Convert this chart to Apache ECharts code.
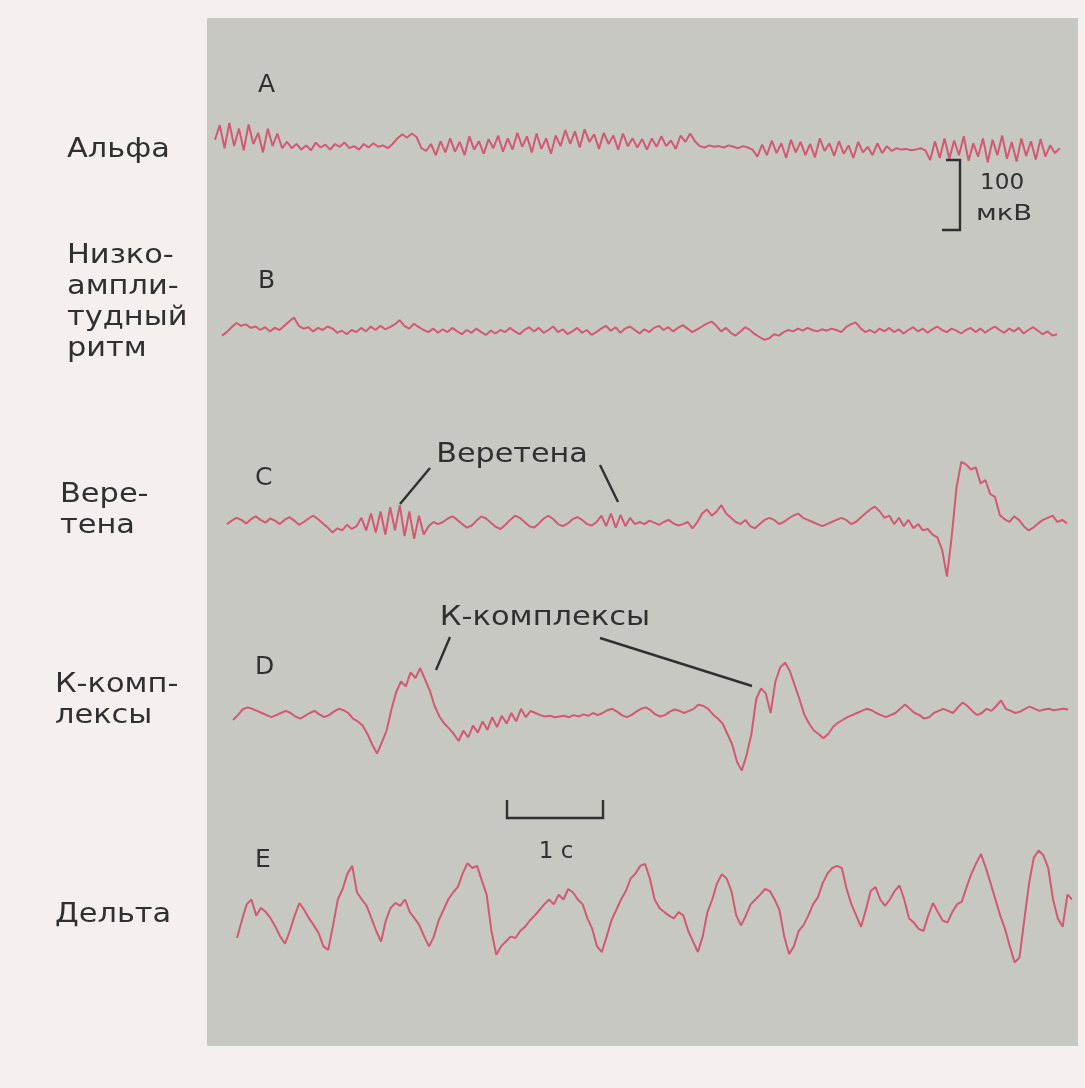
<!DOCTYPE html>
<html>
<head>
<meta charset="utf-8">
<title>ЭЭГ</title>
<script src="https://cdn.jsdelivr.net/npm/echarts@6/dist/echarts.min.js"></script>
<style>
html, body { margin: 0; padding: 0; background: #f5f0ee; }
#main { width: 1085px; height: 1088px; }
</style>
</head>
<body>
<div id="main"></div>
<script>
// time step between samples, seconds
const STEP = 0.05;

// start time of each trace, seconds
const START_A = 0.083;
const START_B = 0.156;
const START_C = 0.208;
const START_D = 0.271;
const START_E = 0.313;

// amplitudes, µV
const alpha = [
    6, 27, -6, 30, -3, 22, -9, 28, 0, 16, -12, 22, -3, 15, -6,
    3, -6, 0, -8, -2, -9, 2, -5, -1, -8, 0, -4, 2, -6, -3, -8, 0, -5, 1, -4, -2, -6, 0,
    8, 14, 9, 15, 10,
    -6, -10,
    0, -16, 4, -12, 8, -11, 3, -16, 11, -8, 4, -14, 7, -6, 12, -11, 8, -8, 16, -4, 11, -12, 15, -7, 8, -14, 12,
    -3, 20, 0, 18, -5, 21, 3, 14, -7, 16, 0, 12, -8, 15, -3, 8, -5,
    7, -8, 8, -4, 11, -3, 5, -7, 12, 3, 15, 4,
    -3, -5, -2, -4, -3, -5, -2, -4, -6, -3, -5, -8,
    -18, -1, -16, 5, -13, 1, -20, 6, -12, 3, -16, 0, -19, 8, -10, 1, -17, 4, -14, -2, -20, 3, -12, -4, -16, 1, -13, -3, -10,
    -6, -8, -7, -9, -8, -6, -9,
    -23, 4, -20, 8, -21, 5, -16, 11, -24, 1, -18, 8, -26, 6, -16, 12, -21, 3, -25, 8, -17, 4, -22, 7, -18, -2, -13, -6
];

const lowAmp = [
    -8, -3, 4, 10, 6, 8, 3, 5,
    0, 4, -2, 3, 0, 6, 12, 18,
    6, 2, 4, -2, 3, 0, 5, 2,
    -4, -1, -6, 0, -3, 3, -2, 5, 0, 6, 1, 4, 8,
    14, 6, 2, 9, 4, 0, -3, 2,
    -4, 1, -3, 3, -2, -6, 0, -4, 2, -3, -7, -1, -5, 0, -3, 3, -2,
    -6, 0, 4, -2, 3, -4, 0, 5, -3, 1, -6, -2, 3, -4, 0, -7, -3,
    2, 6, -1, 4, -4, 2, 5, 0, -5, 1,
    -3, 3, 6, 0, 4, -2, 3, 7, 2, -3, 1, 5, 9, 12, 6,
    -2, 3, -4, -8, -2, 4, 0, -6, -10, -14, -12, -6,
    -8, -3, 0, -2, 2, -1, 3, 0, -2, 1, -1, 2, 0, -3, 4, 8, 11,
    3, -3, 0, -4, 2, -2, 3, -3, 1, -5, 0, 4, -2, 2, -4, 1, 5, 0, -3, 2, -1,
    -5, 0, 3, -3, 2, -4, 1, 5, 0, -4, 2, -2, 3, -5, 0, 4, -1, -6, -2, -8, -6
];

const spindles = [
    -3, 2, 6, 3, -2, 4, 8, 3, -1, 5, 2, -3, 3, 7, 2, -4, 0, 5, 9, 4, -2, -8,
    -15, -9, -12, -4, -10, -6,
    6, -12, 12, -15, 15, -18, 21, -12, 24, -20, 15, -24, 9, -18,
    -6, 0, -3,
    0, 5, 8, 3, -3, -8, -5, 2, 8, 5, -1, -7, -10, -4, 3, 9, 6, 0, -6, -8, -2, 5, 9, 4, -3, -6, -2, 4, 7, 3, -3, -5, 0,
    9, -6, 12, -8, 10, -6, 6, -3,
    0, -3, 2, -1, -4, 0, 3, -2, -5, -3, 0, -9,
    0, 12, 18, 9, 15, 24, 12, 6,
    0, -3, 3, -6, -9, -3, 3, 6, 3, -3, 0, 5, 9,
    12, 6, 3, 0, -3, -6, -3, 0, 3, 6, 3, -3, 0, 6, 12, 18, 22,
    15, 6, 9, -3, 6, -6, 3, -9, -3, -12, -10, -18, -22,
    -40, -78, -20, 50,
    86, 82, 75, 78, 55, 60, 40, 36, 10, 4, 0, 8, 3, -6, -12, -8, -2, 3, 6, 9, 0, 3, -2
];

const kComplex = [
    -10, -3, 5, 8, 6, 3, 0, -3, -6, -3, 0, 3, 0, -5, -8, -4, 0, 3, -2, -6, -3, 2, 6, 4,
    0, -8, -12, -18, -30, -45,
    -58, -42, -25, 5, 30,
    45, 38, 58, 50, 64, 48, 32, 10,
    -5, -15, -22, -30, -40, -25, -35, -18,
    -28, -12, -24, -6, -20, -4, -15, 0, -12, 6, -6, 3, 0,
    -3, -5, -4, -6, -5, -4, -6, -3, -5, -2, -4, 0, -3,
    0, 4, 6, 2, -3, -6, -3, 2, 6, 8, 4, -2, -5, -3, 2, 5, 3, 0, 3, 6, 12,
    10, 6, -2, -8, -15, -30, -45, -70,
    -82, -60, -30, 20, 35, 28, 0, 45, 65, 72, 60, 40, 20,
    -2, -15, -25, -30, -36, -30, -20, -14,
    -10, -6, -3, 0, 3, 6, 4, 0, -3, -6, -3, 0, 6,
    12, 6, 0, -3, -8, -6, 0, 3, 6, 3, 0, 8, 15, 10, 3, -3, 0, 6, 3, 10, 18,
    6, 3, 0, 2, 6, 9, 6, 3, 5, 6, 4, 5, 6, 5
];

const delta = [
    -40, -15, 8, 15, -8, 3, -3, -12, -24, -38, -48, -30, -8, 10, 0, -12, -22, -33, -52, -57,
    -22, 15, 30, 52, 63, 25, 15, 6, -12, -30, -45, -15, 3, 10, 6, 15, -3, -12, -22, -38,
    -52, -38, -15, 0, 15, 25, 33, 52, 67, 60, 63, 42, 22, -30, -64, -52, -45, -38, -40, -30,
    -24, -15, -8, 0, 8, 15, 8, 22, 15, 30, 25, 15, 8, -12, -27, -52, -60, -38, -15, 0,
    15, 27, 45, 52, 63, 66, 45, 15, 3, -3, -8, -12, -3, -8, -30, -45, -60, -38, -3, 15,
    38, 51, 45, 27, -8, -22, -8, 8, 15, 22, 30, 27, 15, 0, -38, -63, -52, -30, -22, -8,
    8, 18, 38, 52, 60, 63, 60, 30, 8, -8, -24, 0, 27, 33, 15, 6, 15, 27, 35, 15,
    -12, -18, -27, -30, -8, 10, -3, -15, -18, -3, 8, 12, 33, 52, 67, 80, 60, 38, 15, -8,
    -27, -52, -75, -68, -15, 38, 75, 85, 78, 60, 15, -12, -24, 22, 15
];

const rowLabels = ['Альфа', 'Низко-\nампли-\nтудный\nритм', 'Вере-\nтена', 'К-комп-\nлексы', 'Дельта'];
const rowLetters = ['A', 'B', 'C', 'D', 'E'];

// layout
const PX_PER_S = 96;
const PX_PER_UV = 0.7;
const X_MAX = 9;
const Y_HALF = 100 / PX_PER_UV;
const PANEL = {x: 207, y: 18, width: 871, height: 1028};
const baselines = [144, 330, 522, 713, 910];
const labelPos = [[67, 150], [67, 303], [60, 511], [55, 701], [55, 915]];
const letterPos = [[258, 85], [258, 281], [255, 478], [255, 667], [255, 860]];

const TRACE_COLOR = '#d24d68';
const INK = '#303030';
const FONT = 'DejaVu Sans';

let traces = [
    {vals: alpha, start: START_A},
    {vals: lowAmp, start: START_B},
    {vals: spindles, start: START_C},
    {vals: kComplex, start: START_D},
    {vals: delta, start: START_E}
];

function toPoints(vals, start) {
    return vals.map((v, i) => [+(start + i * STEP).toFixed(3), v]);
}

function textEl(text, x, y, size, align, sx) {
    return {
        type: 'text',
        x: x,
        y: y,
        scaleX: sx || 1,
        z: 5,
        style: {
            text: text,
            font: size + 'px "' + FONT + '"',
            fill: INK,
            align: align || 'left',
            textAlign: align || 'left',
            verticalAlign: 'middle',
            textVerticalAlign: 'middle',
            lineHeight: 31
        }
    };
}

function lineEl(points, width) {
    return {
        type: 'polyline',
        z: 5,
        shape: {points: points},
        style: {stroke: INK, lineWidth: width || 2.4, fill: null}
    };
}

let uvBar = 100 * PX_PER_UV;
let secBar = 1 * PX_PER_S;

let graphic = [
    {type: 'rect', z: -10, shape: PANEL, style: {fill: '#c8c8c3'}}
];
rowLabels.forEach((t, i) => graphic.push(textEl(t, labelPos[i][0], labelPos[i][1], 26, 'left', 1.17)));
rowLetters.forEach((t, i) => graphic.push(textEl(t, letterPos[i][0], letterPos[i][1], 25)));

// annotations
graphic.push(textEl('Веретена', 512, 455, 27, 'center', 1.12));
graphic.push(lineEl([[430, 468], [400, 504]]));
graphic.push(lineEl([[600, 465], [618, 502]]));
graphic.push(textEl('К-комплексы', 545, 618, 27, 'center', 1.13));
graphic.push(lineEl([[450, 637], [436, 670]]));
graphic.push(lineEl([[600, 638], [752, 686]]));

// 100 µV bar
graphic.push(lineEl([[946, 160], [960, 160], [960, 160 + uvBar], [942, 160 + uvBar]]));
graphic.push(textEl('100', 980, 183, 22, 'left', 1.05));
graphic.push(textEl('мкВ', 976, 214, 22, 'left', 1.25));

// 1 s bar
graphic.push(lineEl([[507, 800], [507, 818], [507 + secBar, 818], [507 + secBar, 800]]));
graphic.push(textEl('1 с', 556, 852, 23, 'center'));

let option = {
    animation: false,
    backgroundColor: '#f5f0ee',
    graphic: graphic,
    grid: baselines.map(b => ({
        left: PANEL.x,
        top: b - 100,
        width: X_MAX * PX_PER_S,
        height: 200
    })),
    xAxis: baselines.map((b, i) => ({
        type: 'value', gridIndex: i, min: 0, max: X_MAX, show: false
    })),
    yAxis: baselines.map((b, i) => ({
        type: 'value', gridIndex: i, min: -Y_HALF, max: Y_HALF, show: false
    })),
    series: traces.map((tr, i) => ({
        type: 'line',
        xAxisIndex: i,
        yAxisIndex: i,
        showSymbol: false,
        silent: true,
        lineStyle: {color: TRACE_COLOR, width: 2, opacity: 0.9},
        data: toPoints(tr.vals, tr.start)
    }))
};

let chart = echarts.init(document.getElementById('main'));
chart.setOption(option);
</script>
</body>
</html>
